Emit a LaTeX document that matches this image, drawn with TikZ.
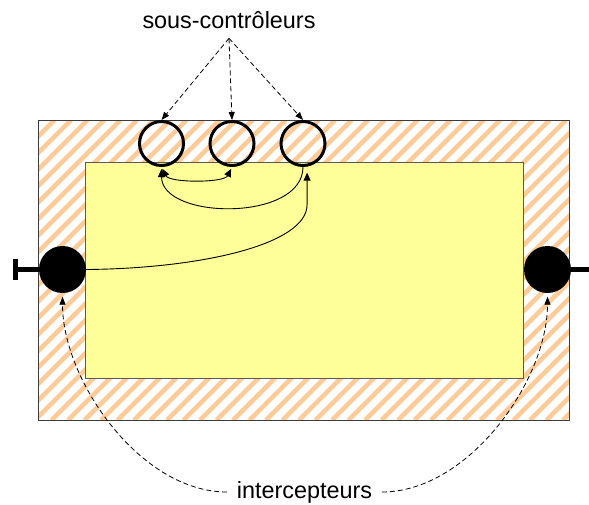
\documentclass[tikz,border=0pt]{standalone}
\usepackage{fontspec}
\setmainfont{Liberation Sans}
\usetikzlibrary{arrows.meta,calc}
\definecolor{peach}{RGB}{255,204,153}
\definecolor{paleyellow}{RGB}{255,255,153}
\definecolor{outerborder}{RGB}{60,60,60}
\definecolor{innerborder}{RGB}{90,90,90}
\begin{document}
\begin{tikzpicture}[x=1pt,y=-1pt,
  ring/.style={circle,draw=black,line width=3pt,minimum size=44pt,inner sep=0pt},
  plug/.style={circle,fill=black,minimum size=47pt,inner sep=0pt},
  lbl/.style={font=\fontsize{23.4}{28}\selectfont,inner sep=9.5pt},
  tipA/.style={-{Triangle[length=8pt,width=7pt]}},
  solidarrow/.style={line width=0.9pt,tipA},
  bothsolid/.style={line width=0.9pt,{Triangle[length=8pt,width=7pt]}-{Triangle[length=8pt,width=7pt]}},
  dasharrow/.style={line width=0.8pt,dash pattern=on 5pt off 3pt,-{Triangle[length=8pt,width=6pt]}},
  stripe/.style={peach,line width=4.6pt},
  wire/.style={line width=4.8pt}
]
\useasboundingbox (0,0) rectangle (589,504);
% hatched frame
\begin{scope}
  \clip (38,120) rectangle (569,420);
  \foreach \x in {-262,-245.5,...,580} \draw[stripe] (\x,420) -- ++(300,-300);
\end{scope}
\draw[draw=outerborder,line width=1pt] (38,120) rectangle (569,420);
\draw[fill=paleyellow,draw=innerborder,line width=1pt] (85,162) rectangle (523,378);

% nodes
\node[ring] (c1) at (161.5,143.5) {};
\node[ring] (c2) at (232,143.5) {};
\node[ring] (c3) at (303,143.5) {};
\node[plug] (L) at (62.5,269.5) {};
\node[plug] (R) at (547.5,269.5) {};
\node[lbl] (sc) at (229,20) {sous-contrôleurs};
\node[lbl] (ic) at (304.5,492) {intercepteurs};
\coordinate (lt) at (15.8,269.5);
\coordinate (rt) at (589,269.5);

% terminals
\draw[wire] (L.center) -- (lt);
\draw[wire] (lt) ++(0,-10.5) -- ++(0,21);
\draw[wire] (R.center) -- (rt);

% label arrows
\draw[dasharrow] (sc.south) -- (c1.north);
\draw[dasharrow] (sc.south) -- (c2.north);
\draw[dasharrow] (sc.south) -- (c3.north);

% internal connections
\draw[bothsolid,shorten <=2pt,shorten >=2pt] (c1.south) .. controls +(8,16) and +(-8,16) .. (c2.south);
\draw[solidarrow,shorten >=2pt] (c3.south) .. controls +(0,55) and +(0,53) .. (c1.south);
\draw[solidarrow,shorten >=6pt] (L.east) .. controls +(114,-1) and +(0,40) .. ($(c3.-80)+(0,38)$) -- (c3.-80);

% interceptor arrows
\draw[dasharrow,shorten >=3.5pt] (ic.west) .. controls +(-87,0) and +(0,87) .. (L.south);
\draw[dasharrow,shorten >=3.5pt] (ic.east) .. controls +(87,0) and +(0,87) .. (R.south);
\end{tikzpicture}
\end{document}
